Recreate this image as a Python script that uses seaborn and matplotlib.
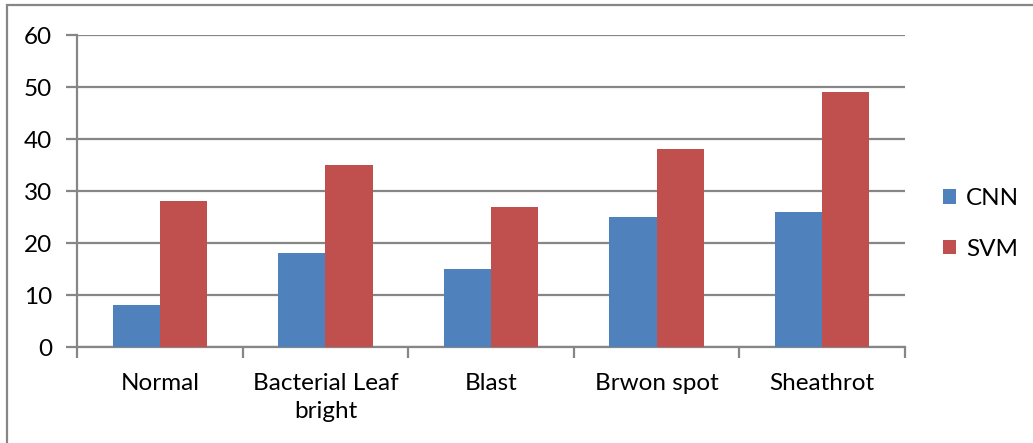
import numpy as np
import pandas as pd
import matplotlib
matplotlib.use("Agg")
import matplotlib.pyplot as plt
import seaborn as sns
from matplotlib.patches import Rectangle

# data
categories = ["Normal", "Bacterial Leaf\nbright", "Blast", "Brwon spot", "Sheathrot"]
cnn = [8, 18, 15, 25, 26]
svm = [28, 35, 27, 38, 49]
series = ["CNN", "SVM"]
colors = ["#4F81BD", "#C0504D"]
yticks = [0, 10, 20, 30, 40, 50, 60]

df = pd.DataFrame({
    "category": categories * 2,
    "model": ["CNN"] * len(categories) + ["SVM"] * len(categories),
    "value": cnn + svm,
})

sns.set_style("white")
plt.rcParams["font.family"] = ["Lato", "DejaVu Sans"]
plt.rcParams["text.color"] = "black"

fs = 17.5
grid_col = "#868686"
fig = plt.figure(figsize=(10.33, 4.43), dpi=100)
ax = fig.add_axes([77 / 1033, 1 - 347 / 443, 828 / 1033, 312 / 443])

sns.barplot(data=df, x="category", y="value", hue="model", order=categories,
            hue_order=series, palette=colors, width=0.57, saturation=1,
            edgecolor="none", ax=ax, zorder=3)

ax.set_xlim(-0.5, len(categories) - 0.5)
ax.set_ylim(0, 60)
ax.set_yticks(yticks)
ax.set_xlabel("")
ax.set_ylabel("")

# horizontal gridlines like an Excel chart
ax.grid(axis="y", color=grid_col, linewidth=1.6, zorder=0)
ax.grid(axis="x", visible=False)
for s in ["top", "right"]:
    ax.spines[s].set_visible(False)
for s in ["left", "bottom"]:
    ax.spines[s].set_color(grid_col)
    ax.spines[s].set_linewidth(1.6)

ax.tick_params(axis="y", length=8, width=1.6, color=grid_col, labelsize=fs, pad=10,
               left=True, labelcolor="black")
ax.tick_params(axis="x", which="major", length=0, labelsize=fs, pad=19, labelcolor="black")
ax.set_xticks(np.arange(-0.5, len(categories), 1.0), minor=True)
ax.tick_params(axis="x", which="minor", length=8, width=1.6, color=grid_col, bottom=True)
for lab in ax.get_xticklabels():
    lab.set_linespacing(1.4)
ax.set_axisbelow(True)

# legend at the right
handles, labels = ax.get_legend_handles_labels()
ax.legend(handles, labels, loc="center left", bbox_to_anchor=(921 / 1033, 1 - 224 / 443),
          bbox_transform=fig.transFigure, frameon=False, fontsize=fs,
          handlelength=0.55, handleheight=0.55, handletextpad=0.4, labelspacing=1.2)

# outer chart border (cut off at right and bottom like the screenshot)
fig.patches.append(Rectangle((7 / 1033, -0.1), 1.2, 1 - 5 / 443 + 0.1,
                             transform=fig.transFigure, fill=False,
                             edgecolor=grid_col, linewidth=1.6))

fig.savefig("out.png", dpi=100)
